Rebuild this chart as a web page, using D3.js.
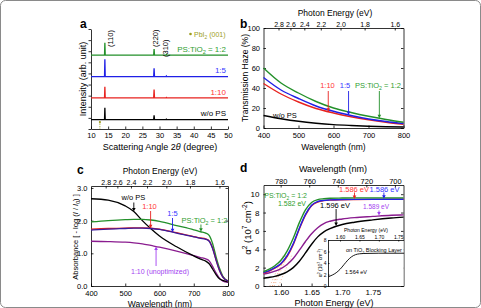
<!DOCTYPE html>
<html>
<head>
<meta charset="utf-8">
<script src="https://cdn.jsdelivr.net/npm/d3@7"></script>
<style>
  body { margin: 0; background: #fff; }
  svg { display: block; font-family: "Liberation Sans", Arial, sans-serif; }
  .axis path, .axis line { stroke: #000; stroke-width: 0.8; }
  .axis text { fill: #000; font-family: "Liberation Sans", Arial, sans-serif; }
</style>
</head>
<body>
<svg id="fig" width="481" height="308"></svg>
<script>
// ---- (a) XRD patterns (stacked) ----
const xrdAngle  = [10, 13.95, 14.05, 14.15, 28.3, 28.42, 28.54, 31.9, 32.0, 32.1, 50];
const xrdWoPS   = [0, 0, 1.05, 0, 0, 0.38, 0, 0, 0.03, 0, 0];
const xrd1to10  = [0, 0, 1.0, 0, 0, 0.75, 0, 0, 0.04, 0, 0];
const xrd1to5   = [0, 0, 1.55, 0, 0, 0.75, 0, 0, 0.05, 0, 0];
const xrd1to2   = [0, 0, 1.1, 0, 0, 0.55, 0, 0, 0.05, 0, 0];
const xrdOffset = [0.85, 2.8, 4.72, 6.65];
const xrdTicks  = [10, 15, 20, 25, 30, 35, 40, 45, 50];
const pbi2Angle = 12.6;
const peakLabels = [["(110)", 14.05], ["(220)", 28.42], ["(310)", 32.0]];

// ---- (b) transmission haze ----
const hazeWl    = [400, 450, 500, 550, 600, 650, 700, 750, 800];
const hazeWoPS  = [12.5, 9.3, 6.7, 4.8, 3.4, 2.5, 1.8, 1.3, 1.0];
const haze1to10 = [44.5, 34, 26, 19.5, 15, 11.3, 8.3, 5.8, 3.8];
const haze1to5  = [50.5, 38, 29.5, 22, 16.7, 12.5, 9, 6.5, 4.5];
const haze1to2  = [60, 45, 35, 26.5, 20, 15.5, 11.7, 8.5, 5.8];
const hazeTicks = [0, 20, 40, 60, 80, 100];

// ---- (c) absorbance ----
const absWl     = [400, 450, 500, 525, 550, 575, 600, 650, 700, 720, 735, 745, 755, 765, 775, 785, 800];
const absWoPS   = [2.67, 2.63, 2.45, 2.28, 2.0, 1.75, 1.53, 1.2, 0.92, 0.82, 0.76, 0.68, 0.52, 0.35, 0.22, 0.17, 0.13];
const abs1to10  = [1.74, 1.76, 1.77, 1.78, 1.78, 1.77, 1.74, 1.63, 1.51, 1.47, 1.44, 1.38, 1.16, 0.8, 0.48, 0.27, 0.15];
const abs1to5   = [1.71, 1.74, 1.76, 1.77, 1.77, 1.76, 1.73, 1.62, 1.5, 1.46, 1.43, 1.37, 1.15, 0.8, 0.48, 0.27, 0.15];
const abs1to2   = [1.96, 2.0, 2.03, 2.04, 2.04, 2.02, 1.98, 1.85, 1.72, 1.66, 1.62, 1.55, 1.3, 0.9, 0.55, 0.3, 0.16];
const absUnopt  = [1.37, 1.36, 1.34, 1.32, 1.29, 1.24, 1.19, 1.07, 0.93, 0.87, 0.83, 0.77, 0.6, 0.4, 0.24, 0.15, 0.11];
const absTicks  = [0, 1, 2, 3];

// shared wavelength / photon energy ticks
const wlTicks   = [400, 500, 600, 700, 800];
const eTicks    = [2.8, 2.6, 2.4, 2.2, 2.0, 1.8, 1.6];

// ---- (d) Tauc plot, alpha^2 vs photon energy ----
const taucE     = [1.5715, 1.58, 1.59, 1.60, 1.61, 1.62, 1.63, 1.64, 1.65, 1.66, 1.67, 1.68, 1.70, 1.72, 1.75, 1.78, 1.80];
const tauc1to2  = [1.55, 1.8, 2.2, 2.8, 3.8, 5.2, 6.9, 8.3, 9.1, 9.4, 9.5, 9.55, 9.58, 9.6, 9.6, 9.6, 9.6];
const tauc1to5  = [1.45, 1.65, 2.0, 2.45, 3.3, 4.6, 6.3, 7.8, 8.8, 9.2, 9.33, 9.38, 9.42, 9.43, 9.44, 9.45, 9.45];
const tauc1to10 = [1.4, 1.6, 1.95, 2.4, 3.2, 4.5, 6.2, 7.7, 8.75, 9.15, 9.3, 9.36, 9.4, 9.42, 9.43, 9.44, 9.44];
const taucUnopt = [1.3, 1.42, 1.62, 1.9, 2.35, 3.0, 3.9, 4.85, 5.7, 6.35, 6.8, 7.05, 7.3, 7.45, 7.58, 7.7, 7.75];
const taucWoPS  = [0.85, 0.93, 1.05, 1.25, 1.55, 2.0, 2.7, 3.6, 4.55, 5.35, 5.9, 6.25, 6.7, 6.95, 7.2, 7.4, 7.5];
// band gaps (eV): PS:TiO2 1:2, 1:5, 1:10, 1:10 unoptimized, w/o PS
const taucGap   = [1.582, 1.586, 1.586, 1.589, 1.596];
const taucTicksE = [1.60, 1.65, 1.70, 1.75];
const taucTicksY = [0, 2, 4, 6, 8, 10];
const taucTicksWl = [780, 760, 740, 720, 700];
// inset: film on TiO2 blocking layer
const insetE    = [1.57, 1.58, 1.59, 1.60, 1.61, 1.62, 1.63, 1.64, 1.65, 1.66, 1.70, 1.765];
const insetA    = [1.6, 1.9, 2.3, 2.9, 3.7, 4.5, 5.1, 5.45, 5.6, 5.65, 5.7, 5.7];
const insetGap  = 1.564;
const insetTicksY = [0, 2, 4, 6, 8];

const col = { black: "#000", red: "#e8231f", blue: "#2020e6", green: "#23902a", purple: "#8a1c8f" };
const txt = { red: "#ff3535", blue: "#3535ff", green: "#2f9e2f", violet: "#a33ff0", olive: "#9c9c1c" };

const svg = d3.select("#fig");
svg.append("rect").attr("x", 0.5).attr("y", 0.5).attr("width", 480).attr("height", 307)
   .attr("rx", 5).attr("fill", "#fff").attr("stroke", "#8a8a8a");

// text with sub/superscripts: segs = [[string, "sub"|"sup"|"it"|undefined], ...]
function rich(g, x, y, segs, o) {
  const size = o.size || 8;
  const t = g.append("text").attr("x", x).attr("y", y).attr("font-size", size)
     .attr("fill", o.color || "#000").attr("text-anchor", o.anchor || "start");
  if (o.rotate) t.attr("transform", `rotate(-90,${x},${y})`);
  if (o.weight) t.attr("font-weight", o.weight);
  let shift = 0;
  segs.forEach(s => {
    const want = s[1] == "sub" ? 0.3 : s[1] == "sup" ? -0.4 : 0;
    const ts = t.append("tspan").text(s[0]).attr("dy", ((want - shift) * size).toFixed(2));
    if (want != 0) ts.attr("font-size", size * 0.7);
    if (s[1] == "it") ts.attr("font-style", "italic");
    shift = want;
  });
  return t;
}

function arrow(g, x, y0, y1, color) {
  const d = y1 > y0 ? 1 : -1;
  g.append("line").attr("x1", x).attr("x2", x).attr("y1", y0).attr("y2", y1 - 2 * d)
   .attr("stroke", color).attr("stroke-width", 0.9);
  g.append("path").attr("d", `M${x - 1.8},${y1 - 3.5 * d}L${x + 1.8},${y1 - 3.5 * d}L${x},${y1}Z`)
   .attr("fill", color);
}

function interp(xs, ys, x) {
  let i = d3.bisectRight(xs, x) - 1;
  i = Math.max(0, Math.min(xs.length - 2, i));
  const t = (x - xs[i]) / (xs[i + 1] - xs[i]);
  return ys[i] + t * (ys[i + 1] - ys[i]);
}

function axis(g, gen, tr, size) {
  const a = g.append("g").attr("class", "axis").attr("transform", tr).call(gen);
  a.attr("font-size", size);
  return a;
}

function curve(g, xs, ys, x, y, color, w, kind) {
  const line = d3.line().x(d => x(d[0])).y(d => y(d[1])).curve(kind || d3.curveMonotoneX);
  g.append("path").datum(xs.map((v, i) => [v, ys[i]])).attr("d", line)
   .attr("fill", "none").attr("stroke", color).attr("stroke-width", w || 1.3);
}

const eFmt = w => d3.format(".1f")(1240 / w);

// ================= (a) =================
const ga = svg.append("g");
const xa = d3.scaleLinear().domain([10, 50]).range([91, 228]);
const ya = d3.scaleLinear().domain([0, 9]).range([129, 29]);
axis(ga, d3.axisBottom(xa).tickValues(xrdTicks).tickSize(-2.5).tickSizeOuter(0).tickPadding(3.5), "translate(0,129)", 7.5);
axis(ga, d3.axisLeft(ya).ticks(9).tickSize(2.5).tickSizeOuter(0).tickFormat(""), "translate(91,0)", 7);

const xrdSeries = [[xrdWoPS, col.black], [xrd1to10, col.red], [xrd1to5, col.blue], [xrd1to2, col.green]];
xrdSeries.forEach((s, k) => {
  curve(ga, xrdAngle, s[0].map(v => v + xrdOffset[k]), xa, ya, s[1], 1.3, d3.curveLinear);
});
const xrdNames = [[["w/o PS"]], [["1:10"]], [["1:5"]], [["PS:TiO"], ["2", "sub"], [" = 1:2"]]];
const xrdNameCol = ["#000", txt.red, txt.blue, txt.green];
xrdNames.forEach((n, k) => rich(ga, 226, ya(xrdOffset[k] + 0.28), n, { size: 8, anchor: "end", color: xrdNameCol[k] }));

const peakShift = [8.5, 4.3, 2];
peakLabels.forEach((p, k) => {
  rich(ga, xa(p[1]) + peakShift[k], k == 2 ? 57 : 47, [[p[0]]], { size: 7.5, rotate: true });
});
// PbI2 marker
ga.append("line").attr("x1", xa(pbi2Angle)).attr("x2", xa(pbi2Angle)).attr("y1", ya(0.5)).attr("y2", ya(0))
  .attr("stroke", txt.olive).attr("stroke-width", 0.8).attr("stroke-dasharray", "1.5,1");
ga.append("circle").attr("cx", xa(pbi2Angle)).attr("cy", ya(0.62)).attr("r", 1.1).attr("fill", txt.olive);
ga.append("circle").attr("cx", 190.5).attr("cy", 34).attr("r", 1.3).attr("fill", txt.olive);
rich(ga, 194, 36.5, [["PbI"], ["2", "sub"], [" (001)"]], { size: 7, color: txt.olive });

rich(ga, 86, 79, [["Intensity (arb. unit)"]], { size: 9, anchor: "middle", rotate: true });
rich(ga, 160, 149.5, [["Scattering Angle 2"], ["θ", "it"], [" (degree)"]], { size: 9, anchor: "middle" });
rich(ga, 80, 27.5, [["a"]], { size: 12, weight: "bold" });

// ================= (b) =================
const gb = svg.append("g");
const xb = d3.scaleLinear().domain([400, 800]).range([263.5, 403.5]);
const yb = d3.scaleLinear().domain([0, 100]).range([128, 28]);
axis(gb, d3.axisBottom(xb).tickValues(wlTicks).tickSize(-2.5).tickSizeOuter(0).tickPadding(5), "translate(0,128)", 7.5);
axis(gb, d3.axisLeft(yb).tickValues(hazeTicks).tickSize(-2.5).tickSizeOuter(0).tickPadding(3.5), "translate(263.5,0)", 7.5);
axis(gb, d3.axisRight(yb).tickValues(hazeTicks).tickSize(-2.5).tickSizeOuter(0).tickFormat(""), "translate(403.5,0)", 7);
axis(gb, d3.axisTop(xb).tickValues(eTicks.map(e => 1240 / e)).tickFormat(eFmt)
  .tickSize(-2.5).tickSizeOuter(0).tickPadding(1.5), "translate(0,28)", 7);

const hazeSeries = [[hazeWoPS, col.black], [haze1to10, col.red], [haze1to5, col.blue], [haze1to2, col.green]];
hazeSeries.forEach(s => curve(gb, hazeWl, s[0], xb, yb, s[1], 1.4));

const hazeNotes = [
  { seg: [["1:10"]], x: 327.5, wl: 585, s: haze1to10, c: txt.red, lc: col.red },
  { seg: [["1:5"]], x: 345, wl: 643, s: haze1to5, c: txt.blue, lc: col.blue },
  { seg: [["PS:TiO"], ["2", "sub"], [" = 1:2"]], x: 378, wl: 731, s: haze1to2, c: txt.green, lc: col.green }
];
hazeNotes.forEach(n => {
  rich(gb, n.x, 88, n.seg, { size: 7.5, anchor: "middle", color: n.c });
  arrow(gb, xb(n.wl), 91, yb(interp(hazeWl, n.s, n.wl)), n.lc);
});
rich(gb, 273, 118, [["w/o PS"]], { size: 7.5 });

rich(gb, 247.5, 78, [["Transmission Haze (%)"]], { size: 8.5, anchor: "middle", rotate: true });
rich(gb, 333.5, 150, [["Wavelength (nm)"]], { size: 8.5, anchor: "middle" });
rich(gb, 335, 15.5, [["Photon Energy (eV)"]], { size: 8.5, anchor: "middle" });
rich(gb, 240, 28, [["b"]], { size: 12, weight: "bold" });

// ================= (c) =================
const gc = svg.append("g");
const xc = d3.scaleLinear().domain([400, 800]).range([91, 228]);
const yc = d3.scaleLinear().domain([0, 3.06]).range([286, 186]);
axis(gc, d3.axisBottom(xc).tickValues(wlTicks).tickSize(-2.5).tickSizeOuter(0).tickPadding(4.5), "translate(0,286)", 7.5);
axis(gc, d3.axisLeft(yc).tickValues(absTicks).tickSize(-2.5).tickSizeOuter(0).tickPadding(3.5), "translate(91,0)", 7.5);
axis(gc, d3.axisRight(yc).tickValues(absTicks).tickSize(-2.5).tickSizeOuter(0).tickFormat(""), "translate(228,0)", 7);
axis(gc, d3.axisTop(xc).tickValues(eTicks.map(e => 1240 / e)).tickFormat(eFmt)
  .tickSize(-2.5).tickSizeOuter(0).tickPadding(1.5), "translate(0,186)", 7);

const absSeries = [[absUnopt, col.purple], [absWoPS, col.black], [abs1to2, col.green], [abs1to10, col.red], [abs1to5, "#3a1c9c"]];
absSeries.forEach(s => curve(gc, absWl, s[0], xc, yc, s[1], 1.3));

rich(gc, 133.5, 200, [["w/o PS"]], { size: 7.5, anchor: "middle" });
arrow(gc, xc(525), 202.5, yc(interp(absWl, absWoPS, 525)), "#000");
rich(gc, 149.5, 209, [["1:10"]], { size: 7.5, anchor: "middle", color: txt.red });
arrow(gc, xc(574), 211, yc(interp(absWl, abs1to10, 574)), col.red);
rich(gc, 172.5, 216, [["1:5"]], { size: 7.5, anchor: "middle", color: txt.blue });
arrow(gc, xc(638), 218, yc(interp(absWl, abs1to5, 638)), col.blue);
rich(gc, 204.5, 222.5, [["PS:TiO"], ["2", "sub"], [" = 1:2"]], { size: 7.5, anchor: "middle", color: txt.green });
arrow(gc, xc(721), 224.5, yc(interp(absWl, abs1to2, 721)), col.green);
rich(gc, 160, 273.5, [["1:10 (unoptimized)"]], { size: 7, anchor: "middle", color: txt.violet });
arrow(gc, xc(590), 266, yc(interp(absWl, absUnopt, 590)), txt.violet);

rich(gc, 78, 237, [["Absorbance [ - log ("], ["I", "it"], [" / "], ["I", "it"], ["0", "sub"], [") ]"]], { size: 7.5, anchor: "middle", rotate: true });
rich(gc, 160, 306.5, [["Wavelength (nm)"]], { size: 8.5, anchor: "middle" });
rich(gc, 160, 173.5, [["Photon Energy (eV)"]], { size: 8.5, anchor: "middle" });
rich(gc, 77, 174, [["c"]], { size: 12, weight: "bold" });

// ================= (d) =================
const gd = svg.append("g");
const xd = d3.scaleLinear().domain([1.5715, 1.80]).range([263.5, 403.5]);
const xdw = d3.scaleLinear().domain([792, 694]).range([263.5, 403.5]);
const yd = d3.scaleLinear().domain([0, 11]).range([286, 185]);
axis(gd, d3.axisBottom(xd).tickValues(taucTicksE).tickFormat(d3.format(".2f")).tickSize(-2.5).tickSizeOuter(0).tickPadding(3), "translate(0,286)", 8);
axis(gd, d3.axisLeft(yd).tickValues(taucTicksY).tickSize(-2.5).tickSizeOuter(0).tickPadding(4), "translate(263.5,0)", 8);
axis(gd, d3.axisRight(yd).tickValues(taucTicksY).tickSize(-2.5).tickSizeOuter(0).tickFormat(""), "translate(403.5,0)", 7);
axis(gd, d3.axisTop(xdw).tickValues(taucTicksWl).tickSize(-2.5).tickSizeOuter(0).tickPadding(1.5), "translate(0,185)", 7.5);

// tangent fits down to the band gap (dotted)
taucGap.forEach(g0 => {
  gd.append("line").attr("x1", xd(g0)).attr("y1", yd(0)).attr("x2", xd(g0 + 0.022)).attr("y2", yd(3.4))
    .attr("stroke", "#f2a27a").attr("stroke-width", 0.8).attr("stroke-dasharray", "1,2.2");
});

const taucSeries = [[taucWoPS, col.black], [taucUnopt, col.purple], [tauc1to10, col.red], [tauc1to5, col.blue], [tauc1to2, col.green]];
taucSeries.forEach(s => curve(gd, taucE, s[0], xd, yd, s[1], 1.4));

// inset
const gi = gd.append("g");
const xi = d3.scaleLinear().domain([1.569, 1.7635]).range([328, 403.5]);
const yi = d3.scaleLinear().domain([0, 8]).range([286, 240]);
gi.append("rect").attr("x", 328).attr("y", 240).attr("width", 75.5).attr("height", 46).attr("fill", "#fff");
axis(gi, d3.axisTop(xi).tickValues(taucTicksE).tickFormat(d3.format(".2f")).tickSize(-1.5).tickSizeOuter(0).tickPadding(1.5), "translate(0,240)", 5);
axis(gi, d3.axisLeft(yi).tickValues(insetTicksY).tickSize(-1.5).tickSizeOuter(0).tickPadding(1.5), "translate(328,0)", 5);
gi.selectAll(".axis path, .axis line").attr("stroke-width", 0.6);
curve(gi, insetE, insetA, xi, yi, "#000", 0.9);
rich(gi, 366, 231.5, [["Photon Energy (eV)"]], { size: 5, anchor: "middle" });
rich(gi, 346, 252, [["on TiO"], ["2", "sub"], [" Blocking Layer"]], { size: 5.5 });
rich(gi, 345, 274, [[insetGap.toFixed(3) + " eV"]], { size: 5.5 });
rich(gi, 322, 263, [["α"], ["2", "sup"], [" (10"], ["7", "sup"], [" cm"], ["-2", "sup"], [")"]], { size: 5, anchor: "middle", rotate: true });

const gapTxt = k => taucGap[k].toFixed(3) + " eV";
const taucNotes = [
  { e: 1.69, s: taucWoPS, y0: 209, c: "#000" },
  { e: 1.76, s: taucUnopt, y0: 210.5, c: txt.violet },
  { e: 1.72, s: tauc1to10, y0: 192.5, c: col.red },
  { e: 1.768, s: tauc1to5, y0: 192.5, c: col.blue }
];
taucNotes.forEach(n => arrow(gd, xd(n.e), n.y0, yd(interp(taucE, n.s, n.e)) - 0.5, n.c));
rich(gd, 335, 207.5, [[gapTxt(4)]], { size: 7.5, anchor: "middle" });
rich(gd, 376, 209, [[gapTxt(3)]], { size: 6.5, anchor: "middle", color: txt.violet });
rich(gd, 354, 192, [[gapTxt(2)]], { size: 7.5, anchor: "middle", color: txt.red });
rich(gd, 384.5, 192, [[gapTxt(1)]], { size: 7.5, anchor: "middle", color: txt.blue });
rich(gd, 307, 198, [["PS:TiO"], ["2", "sub"], [" = 1:2"]], { size: 7, anchor: "end", color: txt.green });
rich(gd, 306, 206, [[gapTxt(0)]], { size: 7, anchor: "end", color: txt.green });

rich(gd, 250.5, 228, [["α"], ["2", "sup"], [" (10"], ["7", "sup"], [" cm"], ["-2", "sup"], [")"]], { size: 9.5, anchor: "middle", rotate: true });
rich(gd, 334, 305.5, [["Photon Energy (eV)"]], { size: 9, anchor: "middle" });
rich(gd, 333, 171.5, [["Wavelength (nm)"]], { size: 9, anchor: "middle" });
rich(gd, 240, 172, [["d"]], { size: 12, weight: "bold" });
</script>
</body>
</html>
